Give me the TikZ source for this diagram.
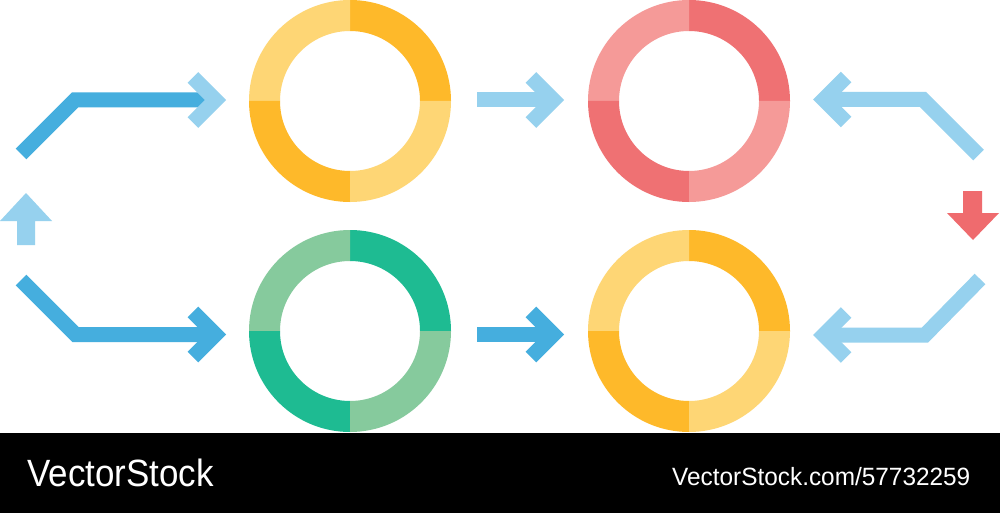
\documentclass[tikz,border=0pt]{standalone}
\usepackage{fontspec}
\setmainfont{Liberation Sans}
\usetikzlibrary{calc}
\definecolor{ydark}{HTML}{FEB92A}
\definecolor{ylight}{HTML}{FED675}
\definecolor{rdark}{HTML}{EF7173}
\definecolor{rlight}{HTML}{F59A98}
\definecolor{gdark}{HTML}{1EBB92}
\definecolor{glight}{HTML}{86CA9D}
\definecolor{bdark}{HTML}{45AEDE}
\definecolor{blight}{HTML}{96D1EE}
\definecolor{redarrow}{HTML}{EF6B6E}
\newcommand\ringquad[4]{%
  \fill[#4] ($(#1)+(#2:101)$) arc[start angle=#2,end angle=#3,radius=101]
    -- ($(#1)+(#3:70)$) arc[start angle=#3,end angle=#2,radius=70] -- cycle;}
\newcommand\ringall[3]{% center, dark, light
  \ringquad{#1}{-90}{0}{#2}
  \ringquad{#1}{-180}{-90}{#3}
  \ringquad{#1}{90}{180}{#2}
  \ringquad{#1}{0}{90}{#3}}
\tikzset{
  barline/.style={line width=15pt, line join=miter, line cap=butt},
  chevline/.style={line width=15pt, line join=miter, miter limit=10, line cap=butt},
  bartext/.style={text=white, inner sep=0pt, anchor=base west},
}
\begin{document}
\begin{tikzpicture}[x=1pt,y=-1pt]
\useasboundingbox (0,0) rectangle (1000,513);
\fill[white] (0,0) rectangle (1000,513);
% ring centres
\coordinate (c1) at (350,101);
\coordinate (c2) at (689,101);
\coordinate (c3) at (350,331);
\coordinate (c4) at (689,331);
\ringall{c1}{ydark}{ylight}
\ringall{c2}{rdark}{rlight}
\ringall{c3}{gdark}{glight}
\ringall{c4}{ydark}{ylight}
% top-left arrow
\coordinate (tl0) at (21,154);
\coordinate (tl1) at (75,100);
\coordinate (tl2) at (205,100);
\draw[barline,bdark] (tl0) -- (tl1) -- (tl2);
\coordinate (tla) at (215.4,100);
\draw[chevline,blight] ($(tla)+(-22.5,-22.5)$) -- (tla) -- ($(tla)+(-22.5,22.5)$);
% bottom-left arrow
\coordinate (bl0) at (21,280);
\coordinate (bl1) at (75.5,334.5);
\coordinate (bl2) at (205,334.5);
\draw[barline,bdark] (bl0) -- (bl1) -- (bl2);
\coordinate (bla) at (215.4,334.5);
\draw[chevline,bdark] ($(bla)+(-22.5,-22.5)$) -- (bla) -- ($(bla)+(-22.5,22.5)$);
% middle arrows
\coordinate (mt0) at (477,100);
\coordinate (mta) at (553.4,100);
\draw[barline,blight] (mt0) -- (mta);
\draw[chevline,blight] ($(mta)+(-22.5,-22.5)$) -- (mta) -- ($(mta)+(-22.5,22.5)$);
\coordinate (mb0) at (477,334.5);
\coordinate (mba) at (553.4,334.5);
\draw[barline,bdark] (mb0) -- (mba);
\draw[chevline,bdark] ($(mba)+(-22.5,-22.5)$) -- (mba) -- ($(mba)+(-22.5,22.5)$);
% top-right arrow (pointing left)
\coordinate (tr0) at (978.5,155);
\coordinate (tr1) at (923,99.5);
\coordinate (tra) at (823.6,99.5);
\draw[barline,blight] (tr0) -- (tr1) -- (tra);
\draw[chevline,blight] ($(tra)+(22.5,-22.5)$) -- (tra) -- ($(tra)+(22.5,22.5)$);
% bottom-right arrow (pointing left)
\coordinate (br0) at (980,279);
\coordinate (br1) at (925,335);
\coordinate (bra) at (823.6,335);
\draw[barline,blight] (br0) -- (br1) -- (bra);
\draw[chevline,blight] ($(bra)+(22.5,-22.5)$) -- (bra) -- ($(bra)+(22.5,22.5)$);
% up arrow (left)
\fill[blight] (17,245) -- (35,245) -- (35,221) -- (52,221) -- (26,193) -- (0,221) -- (17,221) -- cycle;
% down arrow (right, red)
\fill[redarrow] (963,191) -- (982,191) -- (982,213) -- (999,213) -- (973,240) -- (947,213) -- (963,213) -- cycle;
% bottom bar
\fill[black] (0,433) rectangle (1000,513);
\node[bartext, font=\fontsize{38}{40}\selectfont, xscale=0.92] (vsl) at (27,486) {VectorStock};
\node[bartext, font=\fontsize{25}{28}\selectfont, xscale=0.975] (vsr) at (672,485) {VectorStock.com/57732259};
\end{tikzpicture}
\end{document}
